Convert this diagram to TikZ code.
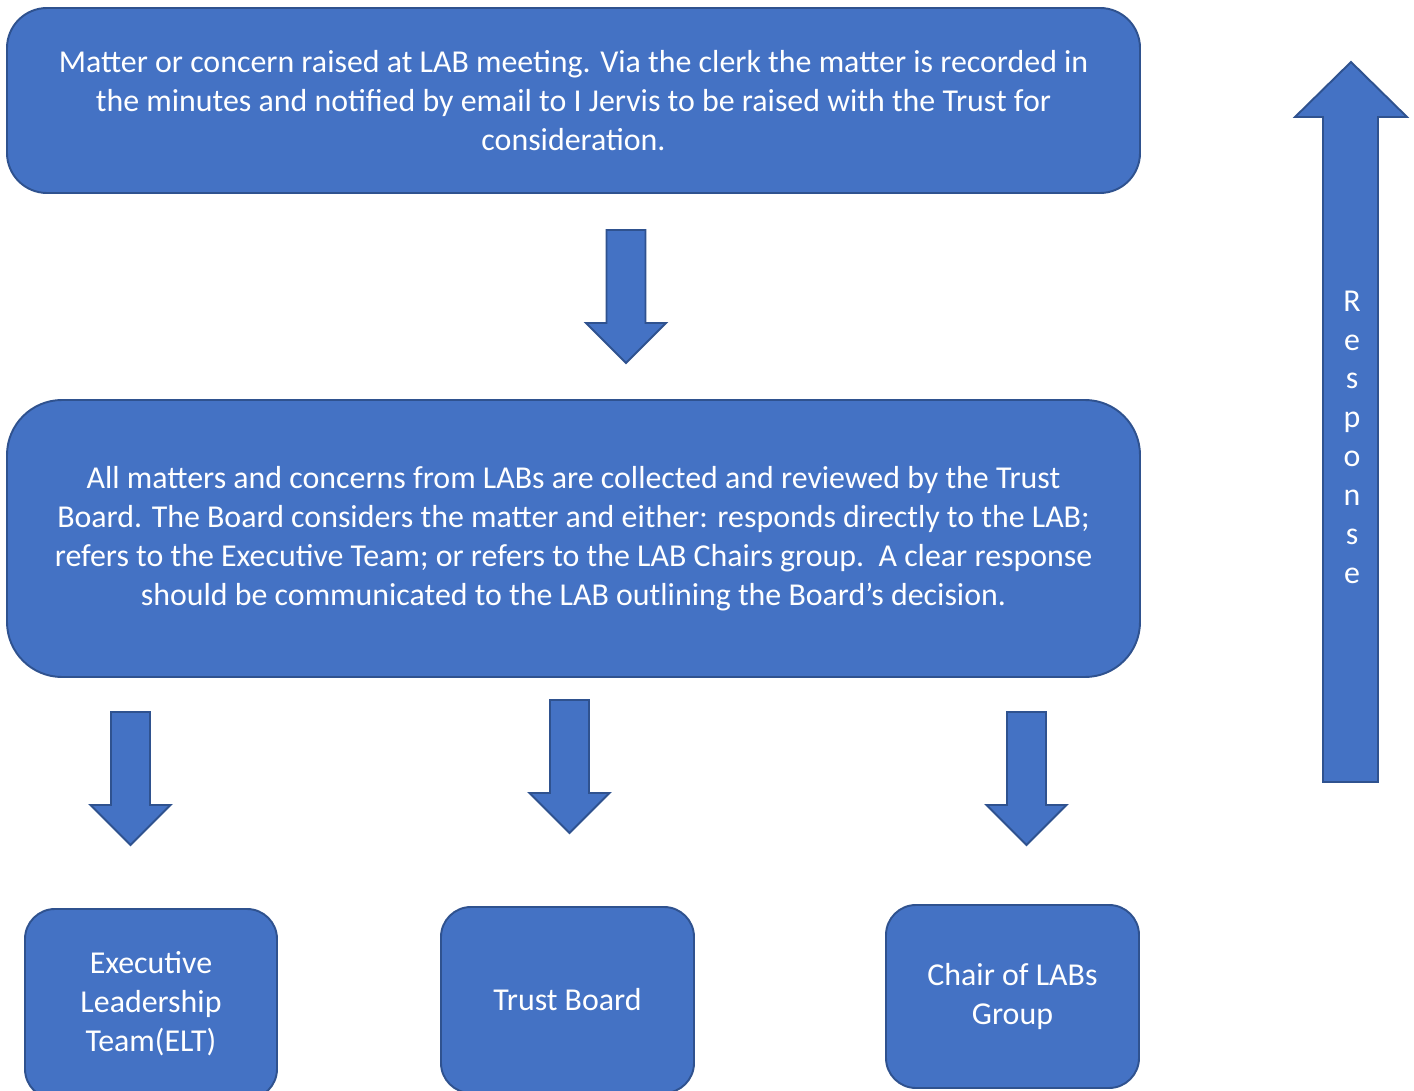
\documentclass[tikz,border=0pt]{standalone}
\usepackage{fontspec}
\setmainfont{Carlito}
\definecolor{boxfill}{HTML}{4472C4}
\definecolor{boxline}{HTML}{2F528F}
\tikzset{
  blockbox/.style={draw=boxline, fill=boxfill, line width=1.1pt, text=white, align=center, inner sep=0pt},
  blockarrow/.style={draw=boxline, fill=boxfill, line width=1.1pt, line join=miter}
}
\begin{document}
\begin{tikzpicture}[x=0.02cm, y=-0.02cm, font=\fontsize{18.15}{22.1}\selectfont]
\useasboundingbox (0,0) rectangle (1414,1091);
\clip (0,0) rectangle (1414,1091);
% boxes
\node[blockbox, rounded corners=40*0.02cm, minimum width=1133*0.02cm, minimum height=185*0.02cm] (raise) at (573.5,100.5)
  {Matter or concern raised at LAB meeting. Via the clerk the matter is recorded in\\
   the minutes and notified by email to I Jervis to be raised with the Trust for\\
   consideration.};
\node[blockbox, rounded corners=55*0.02cm, minimum width=1133*0.02cm, minimum height=277*0.02cm] (board) at (573.5,538.5)
  {All matters and concerns from LABs are collected and reviewed by the Trust\\
   Board. The Board considers the matter and either: responds directly to the LAB;\\
   refers to the Executive Team; or refers to the LAB Chairs group.\ \ A clear response\\
   should be communicated to the LAB outlining the Board’s decision.};
\node[blockbox, rounded corners=30*0.02cm, minimum width=252*0.02cm, minimum height=190*0.02cm] (elt) at (151,1004)
  {Executive\\Leadership\\Team(ELT)};
\node[blockbox, rounded corners=30*0.02cm, minimum width=253*0.02cm, minimum height=186*0.02cm] (trust) at (567.5,1000)
  {Trust Board};
\node[blockbox, rounded corners=30*0.02cm, minimum width=253*0.02cm, minimum height=183*0.02cm] (chair) at (1012.5,996.5)
  {Chair of LABs\\Group};
% down arrows
\foreach \x/\y in {626/230, 130.5/712, 569.5/700, 1026.5/712}
\draw[blockarrow, shift={(\x,\y)}] (-19.5,0) -- (19.5,0) -- (19.5,93) -- (40,93) -- (0,133)
  -- (-40,93) -- (-19.5,93) -- cycle;
% response arrow
\draw[blockarrow] (1323,782) -- (1323,117) -- (1295,117) -- (1351,62) -- (1407,117)
  -- (1378,117) -- (1378,782) -- cycle;
\node[text=white, align=center] (resp) at (1352,437)
  {R\\e\\s\\p\\o\\n\\s\\e};
\end{tikzpicture}
\end{document}
